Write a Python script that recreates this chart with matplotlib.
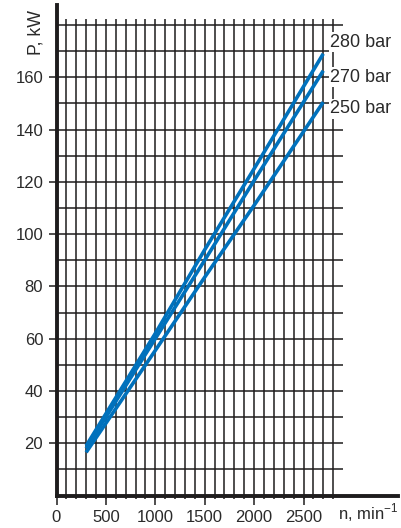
import matplotlib
matplotlib.use("Agg")
import matplotlib.pyplot as plt
import numpy as np

# Power curves P(n) for three pressure levels
speed_rpm = [300, 1000, 1500, 2000, 2700]
power_280 = [19.0, 62.0, 94.0, 125.0, 169.0]
power_270 = [18.0, 60.0, 90.0, 120.5, 162.5]
power_250 = [16.5, 55.5, 83.5, 111.0, 150.5]
series_labels = ["280 bar", "270 bar", "250 bar"]
label_levels = [171.7, 158.3, 146.2]

x_ticks = [0, 500, 1000, 1500, 2000, 2500]
y_ticks = [20, 40, 60, 80, 100, 120, 140, 160]

W, H = 401, 528
DPI = 100
fig = plt.figure(figsize=(W / DPI, H / DPI), dpi=DPI)
fig.patch.set_facecolor("white")

# axes rectangle in pixel units
x0, x1 = 56.5, 398
y0, y1 = 495.5, 5
ax = fig.add_axes([x0 / W, 1 - y0 / H, (x1 - x0) / W, (y0 - y1) / H])
px_per_n = 0.0988
px_per_p = 2.614
ax.set_xlim(0, (x1 - x0) / px_per_n)
ax.set_ylim(0, (y0 - y1) / px_per_p)

FONT = ["Liberation Sans", "DejaVu Sans"]
TXT = "#2a2a2a"
GRID = "#1e1c1d"

# grid
ax.vlines(np.arange(100, 2801, 100), -1.2, 182.3, color=GRID, lw=1.1,
          zorder=1, clip_on=False)
ax.hlines(np.arange(10, 181, 10), 0, 2900, color=GRID, lw=1.1, zorder=1)

# curves
blue = "#0071bc"
for vals in (power_250, power_270, power_280):
    ax.plot(speed_rpm, vals, color=blue, lw=2.6, solid_capstyle="butt", zorder=3)

# curve labels
for lab, lev in zip(series_labels, label_levels):
    ax.text(2768, lev, lab, ha="left", va="baseline", fontsize=13,
            family=FONT, color=TXT, zorder=4,
            bbox=dict(boxstyle="square,pad=0.08", fc="white", ec="none"))

# spines
for s in ("top", "right"):
    ax.spines[s].set_visible(False)
for s in ("left", "bottom"):
    ax.spines[s].set_linewidth(2.8)
    ax.spines[s].set_color(GRID)
    ax.spines[s].set_zorder(5)

ax.set_xticks(x_ticks)
ax.set_yticks(y_ticks)
ax.tick_params(axis="y", length=6, width=1.1, color=GRID, pad=3.6,
               labelsize=12, labelcolor=TXT, labelfontfamily=FONT[0])
ax.tick_params(axis="x", length=6.5, width=1.1, color=GRID, pad=3.6,
               labelsize=12, labelcolor=TXT, labelfontfamily=FONT[0])

fig.text(36 / W, 1 - 32.5 / H, "P, kW", rotation=90, ha="center", va="center",
         fontsize=12.8, family=FONT, color=TXT)
fig.text(338 / W, 1 - 519.3 / H, "n, min$^{\\mathregular{-1}}$", ha="left",
         va="baseline", fontsize=12, family=FONT, color=TXT)

fig.savefig("out.png", dpi=DPI)
